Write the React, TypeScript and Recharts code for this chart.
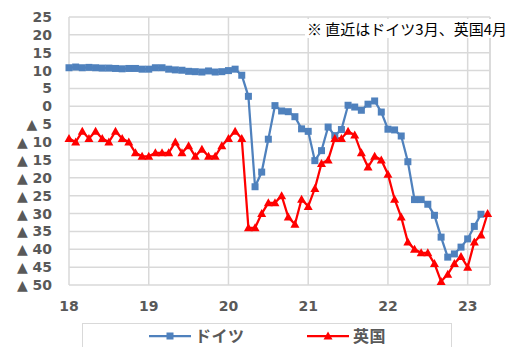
import { LineChart, Line, XAxis, YAxis, CartesianGrid, ReferenceLine } from 'recharts';

// Consumer confidence, monthly from Jan 2018. x axis is year (2-digit) + month/12.
const START_YEAR = 18;
const X_MAX = 23.28;
const xTicks = [18, 19, 20, 21, 22, 23];
const yTicks = [25, 20, 15, 10, 5, 0, -5, -10, -15, -20, -25, -30, -35, -40, -45, -50];

// ドイツ: Jan 2018 .. Mar 2023
const germany = [
  10.8, 11.0, 10.8, 10.9, 10.8, 10.7, 10.7, 10.6, 10.5, 10.6, 10.6, 10.4,
  10.4, 10.8, 10.8, 10.4, 10.2, 10.1, 9.8, 9.7, 9.6, 9.9, 9.6, 9.7,
  10.0, 10.4, 8.7, 2.8, -22.5, -18.4, -9.2, 0.2, -1.3, -1.5, -2.9, -6.3,
  -7.0, -15.2, -12.4, -5.8, -8.2, -6.5, 0.3, -0.2, -1.1, 0.6, 1.5, -1.6,
  -6.4, -6.6, -8.3, -15.5, -26.1, -26.1, -27.4, -30.5, -36.6, -42.2, -41.3, -39.4,
  -37.1, -33.6, -30.2,
];

// 英国: Jan 2018 .. Apr 2023
const uk = [
  -9, -10, -7, -9, -7, -9, -10, -7, -9, -10, -13, -14,
  -14, -13, -13, -13, -10, -13, -11, -14, -12, -14, -14, -11,
  -9, -7, -9, -34, -34, -30, -27, -27, -25, -31, -33, -26,
  -28, -23, -16, -15, -9, -9, -7, -8, -13, -17, -14, -15,
  -19, -26, -31, -38, -40, -41, -41, -44, -49, -47, -44, -42,
  -45, -38, -36, -30,
];

const BLUE = '#4F81BD';
const RED = '#FF0000';
const GRID = '#D9D9D9';
const LABEL = '#595959';

const rows = uk.map((v, i) => ({
  t: START_YEAR + i / 12,
  de: i < germany.length ? germany[i] : null,
  uk: v,
}));

const SquareDot = (props: any) => {
  const { cx, cy } = props;
  if (cx == null || cy == null || props.value == null) return <g />;
  return <rect x={cx - 3.5} y={cy - 3.5} width={7} height={7} fill={BLUE} />;
};

const TriangleDot = (props: any) => {
  const { cx, cy } = props;
  if (cx == null || cy == null) return <g />;
  return (
    <polygon
      points={`${cx},${cy - 4.5} ${cx + 4.5},${cy + 3.5} ${cx - 4.5},${cy + 3.5}`}
      fill={RED}
    />
  );
};

// Negative values are written with a leading ▲ (Japanese convention).
const yFmt = (v: number) => (v < 0 ? `▲ ${-v}` : `${v}`);

const tickStyle = {
  fontSize: 14,
  fontWeight: 700,
  fill: LABEL,
  fontFamily: '"DejaVu Sans", sans-serif',
};

export default function App() {
  return (
    <div
      style={{
        position: 'fixed',
        left: 0,
        top: 0,
        width: 508,
        height: 347,
        background: '#fff',
        overflow: 'hidden',
      }}
    >
      <LineChart
        width={508}
        height={347}
        data={rows}
        margin={{ top: 17, right: 18, bottom: 0, left: 0 }}
      >
        <CartesianGrid stroke={GRID} strokeWidth={1.5} />
        <XAxis
          dataKey="t"
          type="number"
          domain={[18, X_MAX]}
          ticks={xTicks}
          height={62}
          axisLine={false}
          tickLine={false}
          tickSize={0}
          tickMargin={16}
          tick={tickStyle}
        />
        <YAxis
          type="number"
          domain={[-50, 25]}
          ticks={yTicks}
          width={69}
          axisLine={false}
          tickLine={false}
          tickSize={0}
          tickMargin={17}
          tick={tickStyle}
          tickFormatter={yFmt}
          interval={0}
        />
        {/* right edge of the plot frame */}
        <ReferenceLine x={X_MAX} stroke={GRID} strokeWidth={1.5} />
        <Line
          dataKey="de"
          name="ドイツ"
          stroke={BLUE}
          strokeWidth={2.25}
          dot={<SquareDot />}
          isAnimationActive={false}
        />
        <Line
          dataKey="uk"
          name="英国"
          stroke={RED}
          strokeWidth={2.25}
          dot={<TriangleDot />}
          isAnimationActive={false}
        />
      </LineChart>

      {/* note box in the top-right corner, white fill hides the grid behind */}
      <div
        style={{
          position: 'absolute',
          left: 305,
          top: 19,
          width: 203,
          height: 19,
          background: '#fff',
          fontFamily: '"Noto Sans CJK JP", sans-serif',
          fontSize: 15,
          lineHeight: '19px',
          color: '#000',
          paddingLeft: 2,
          whiteSpace: 'nowrap',
        }}
      >
        ※ 直近はドイツ3月、英国4月
      </div>

      {/* legend (box runs off the bottom edge, as in the source image) */}
      <div
        style={{
          position: 'absolute',
          left: 82,
          top: 323,
          width: 368,
          height: 40,
          border: `1px solid ${GRID}`,
          background: '#fff',
          fontFamily: '"Noto Sans CJK JP", sans-serif',
          fontWeight: 700,
          fontSize: 16,
          color: LABEL,
        }}
      >
        <LegendItem left={66} colour={BLUE} label="ドイツ" shape="square" />
        <LegendItem left={224} colour={RED} label="英国" shape="triangle" />
      </div>
    </div>
  );
}

function LegendItem({
  left,
  colour,
  label,
  shape,
}: {
  left: number;
  colour: string;
  label: string;
  shape: 'square' | 'triangle';
}) {
  return (
    <div style={{ position: 'absolute', left, top: 2, display: 'flex', alignItems: 'center', height: 19 }}>
      <svg width={44} height={12}>
        <line x1={0} y1={6} x2={42} y2={6} stroke={colour} strokeWidth={2.25} />
        {shape === 'square' ? (
          <rect x={17.5} y={2.5} width={7} height={7} fill={colour} />
        ) : (
          <polygon points="21,1.5 25.5,9.5 16.5,9.5" fill={colour} />
        )}
      </svg>
      <span style={{ marginLeft: 2, lineHeight: '19px', letterSpacing: 0.5 }}>{label}</span>
    </div>
  );
}
